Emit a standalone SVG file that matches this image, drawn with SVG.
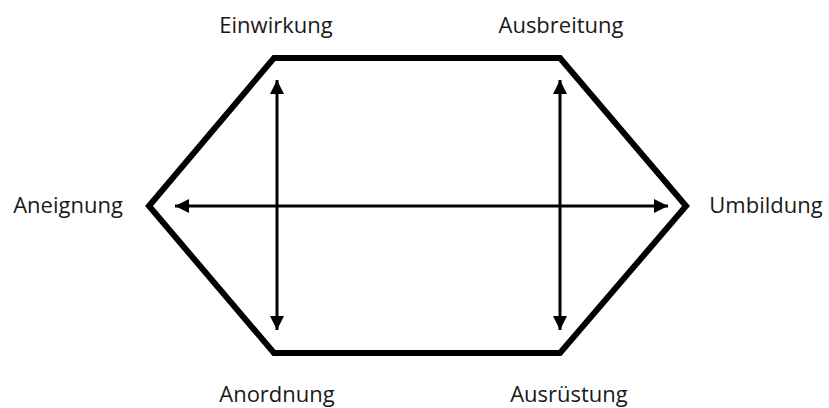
<svg xmlns="http://www.w3.org/2000/svg" width="829" height="408" viewBox="0 0 829 408">
<style>
.lbl{font-family:"Open Sans","Liberation Sans",sans-serif;font-size:22px;fill:#1a1a1a;text-anchor:middle}
.hex{fill:none;stroke:#000;stroke-width:6;stroke-linejoin:miter}
.arr{stroke:#000;stroke-width:3;fill:none}
</style>
<defs>
<marker id="ah" markerUnits="userSpaceOnUse" viewBox="0 0 14 14" refX="14" refY="7" markerWidth="14" markerHeight="14" orient="auto-start-reverse">
<path d="M0,0 L14,7 L0,14 Z" fill="#000"/>
</marker>
</defs>
<g id="hexagon">
<polygon class="hex" points="149,206 274,58 560,58 686,206 560,353 274,353"/>
</g>
<g id="connectors">
<line class="arr" x1="277" y1="80" x2="277" y2="330" marker-start="url(#ah)" marker-end="url(#ah)"/>
<line class="arr" x1="560" y1="80" x2="560" y2="330" marker-start="url(#ah)" marker-end="url(#ah)"/>
<line class="arr" x1="175" y1="206" x2="668" y2="206" marker-start="url(#ah)" marker-end="url(#ah)"/>
</g>
<g id="einwirkung"><text class="lbl" x="276" y="33">Einwirkung</text></g>
<g id="ausbreitung"><text class="lbl" x="561" y="33">Ausbreitung</text></g>
<g id="aneignung"><text class="lbl" x="68" y="213">Aneignung</text></g>
<g id="umbildung"><text class="lbl" x="766" y="213">Umbildung</text></g>
<g id="anordnung"><text class="lbl" x="277" y="402">Anordnung</text></g>
<g id="ausruestung"><text class="lbl" x="569" y="402">Ausrüstung</text></g>
</svg>
